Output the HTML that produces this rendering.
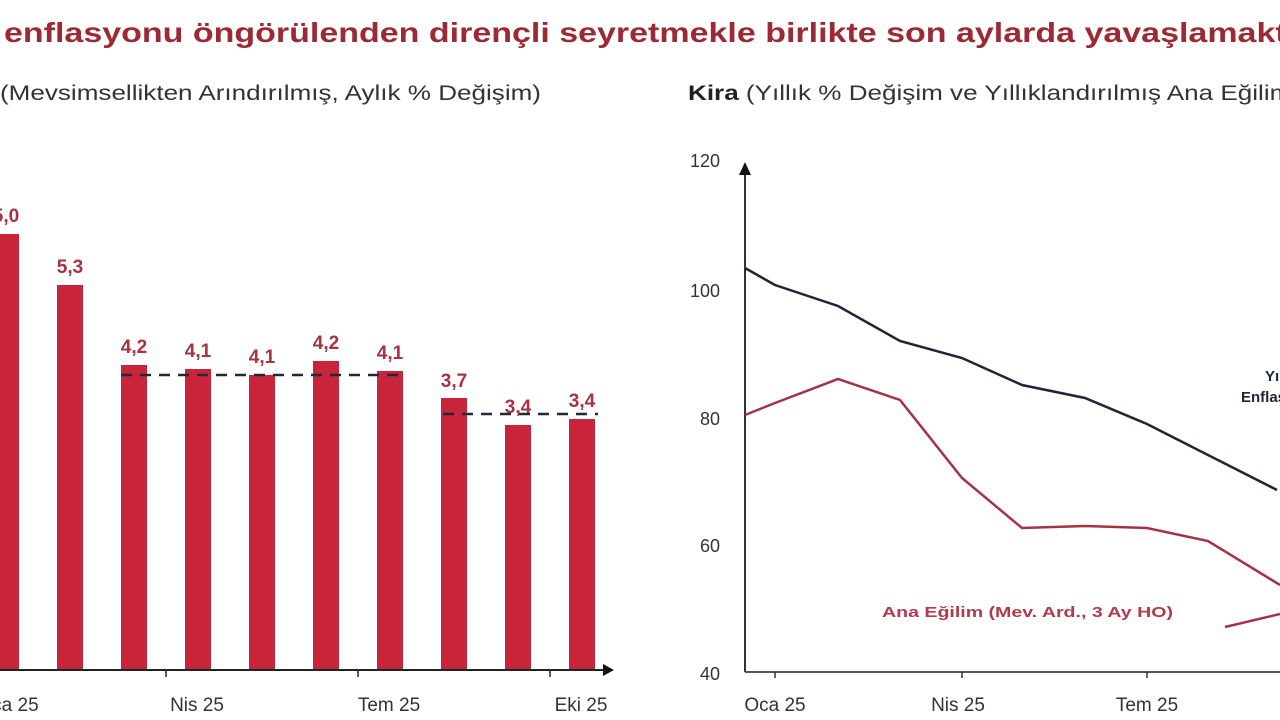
<!DOCTYPE html>
<html><head><meta charset="utf-8"><style>
body{margin:0;background:#fff;width:1280px;height:720px;overflow:hidden;font-family:"Liberation Sans",sans-serif;}
svg{display:block}
</style></head><body>
<svg width="1280" height="720" viewBox="0 0 1280 720" xmlns="http://www.w3.org/2000/svg" font-family="Liberation Sans, DejaVu Sans, sans-serif">
<text x="4" y="42" font-size="28" font-weight="bold" fill="#9b2a35" textLength="1345" lengthAdjust="spacingAndGlyphs">enflasyonu öngörülenden dirençli seyretmekle birlikte son aylarda yavaşlamaktadır</text>
<text x="0" y="100" font-size="21" fill="#333" textLength="541" lengthAdjust="spacingAndGlyphs">(Mevsimsellikten Arındırılmış, Aylık % Değişim)</text>
<text x="688" y="100" font-size="21" fill="#333" textLength="612" lengthAdjust="spacingAndGlyphs"><tspan font-weight="bold" fill="#222">Kira</tspan> (Yıllık % Değişim ve Yıllıklandırılmış Ana Eğilim)</text>

<g fill="#c8243a">
<rect x="-7" y="234" width="26" height="436"/>
<rect x="57" y="285" width="26" height="385"/>
<rect x="121" y="365" width="26" height="305"/>
<rect x="185" y="369" width="26" height="301"/>
<rect x="249" y="375" width="26" height="295"/>
<rect x="313" y="361" width="26" height="309"/>
<rect x="377" y="371" width="26" height="299"/>
<rect x="441" y="398" width="26" height="272"/>
<rect x="505" y="425" width="26" height="245"/>
<rect x="569" y="419" width="26" height="251"/>
</g>
<g fill="#a8323f" font-size="19" font-weight="bold" text-anchor="middle">
<text x="6" y="222">5,0</text>
<text x="70" y="273">5,3</text>
<text x="134" y="353">4,2</text>
<text x="198" y="357">4,1</text>
<text x="262" y="363">4,1</text>
<text x="326" y="349">4,2</text>
<text x="390" y="359">4,1</text>
<text x="454" y="387">3,7</text>
<text x="518" y="413">3,4</text>
<text x="582" y="407">3,4</text>
</g>
<line x1="121" y1="375" x2="402" y2="375" stroke="#1e2a3a" stroke-width="2.5" stroke-dasharray="11,8"/>
<line x1="443" y1="414" x2="598" y2="414" stroke="#1e2a3a" stroke-width="2.5" stroke-dasharray="11,8"/>
<line x1="0" y1="670" x2="604" y2="670" stroke="#222" stroke-width="2"/>
<polygon points="603,664 614,670 603,676" fill="#111"/>
<g stroke="#222" stroke-width="1.5"><line x1="166" y1="670" x2="166" y2="677"/><line x1="358" y1="670" x2="358" y2="677"/><line x1="550" y1="670" x2="550" y2="677"/></g>
<g font-size="19" fill="#333" text-anchor="middle">
<text x="8" y="711">Oca 25</text><text x="197" y="711">Nis 25</text><text x="389" y="711">Tem 25</text><text x="581" y="711">Eki 25</text>
</g>

<line x1="745" y1="170" x2="745" y2="672" stroke="#333" stroke-width="2"/>
<polygon points="739,175 745,162 751,175" fill="#111"/>
<line x1="745" y1="672" x2="1280" y2="672" stroke="#555" stroke-width="2"/>
<g stroke="#333" stroke-width="1.5"><line x1="775" y1="672" x2="775" y2="678"/><line x1="962" y1="672" x2="962" y2="678"/><line x1="1147" y1="672" x2="1147" y2="678"/></g>
<g font-size="18" fill="#333" text-anchor="end">
<text x="720" y="167">120</text><text x="720" y="297">100</text><text x="720" y="425">80</text><text x="720" y="552">60</text><text x="720" y="680">40</text>
</g>
<g font-size="19" fill="#333" text-anchor="middle">
<text x="775" y="711">Oca 25</text><text x="958" y="711">Nis 25</text><text x="1147" y="711">Tem 25</text>
</g>
<polyline fill="none" stroke="#1e2536" stroke-width="2.5" points="745,268 775,285 838,306 900,341 962,358 1022,385 1085,398 1147,424 1208,455 1277,490"/>
<polyline fill="none" stroke="#a53344" stroke-width="2.5" points="745,415 775,403 838,379 900,400 962,478 1022,528 1085,526 1147,528 1208,541 1280,585"/>
<line x1="1225" y1="627" x2="1280" y2="614" stroke="#a53344" stroke-width="2.5"/>
<text x="882" y="617" font-size="15" font-weight="bold" fill="#b23a4c" textLength="291" lengthAdjust="spacingAndGlyphs">Ana Eğilim (Mev. Ard., 3 Ay HO)</text>
<text x="1265" y="381" font-size="15" font-weight="bold" fill="#1e2536">Yıllık</text>
<text x="1241" y="402" font-size="15" font-weight="bold" fill="#1e2536">Enflasyon</text>
</svg>
</body></html>
